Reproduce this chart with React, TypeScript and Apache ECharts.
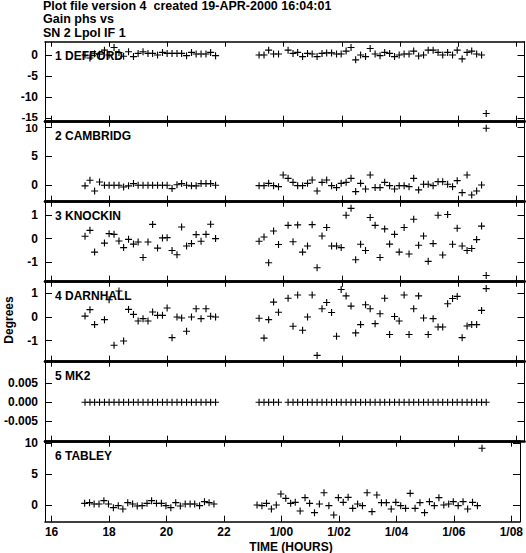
import React, { useEffect, useRef } from "react";
import * as echarts from "echarts";

// ---- data ----
const timesA = [17.15, 17.32, 17.48, 17.65, 17.82, 17.98, 18.15, 18.32, 18.48, 18.65, 18.82, 18.98, 19.15, 19.32, 19.48, 19.65, 19.82, 19.98, 20.15, 20.32, 20.48, 20.65, 20.82, 20.98, 21.15, 21.32, 21.48, 21.65];
const timesB = [23.15, 23.32, 23.48, 23.65, 23.82, 23.98, 24.15, 24.32, 24.48, 24.65, 24.82, 24.98, 25.15, 25.32, 25.48, 25.65, 25.82, 25.98, 26.15, 26.32, 26.48, 26.65, 26.82, 26.98, 27.15, 27.32, 27.48, 27.65, 27.82, 27.98, 28.15, 28.32, 28.48, 28.65, 28.82, 28.98, 29.15, 29.32, 29.48, 29.65, 29.82, 29.98, 30.15, 30.32, 30.48, 30.65, 30.82, 30.98];

const stationNames = ["1 DEFFORD", "2 CAMBRIDG", "3 KNOCKIN", "4 DARNHALL", "5 MK2", "6 TABLEY"];

const deffordA = [0.0, -0.7, 0.3, 0.2, 1.15, 0.0, 1.77, 0.6, -0.3, 0.77, -0.38, 0.38, 0.77, 0.38, 0.38, 0.0, 0.62, 0.38, 0.38, 0.38, 0.38, -0.15, 0.62, 0.23, 0.23, 0.23, 0.62, -0.15];
const deffordB = [0, 0, 1.15, 0.23, 0.23, null, 1.15, 0.38, 0.62, -0.38, 0.38, 0.23, -0.38, 0.38, 0.5, 0.5, 0.23, 0.23, 0.92, 1.77, -1.15, 0, -0.38, 1.54, 0.23, -0.15, 0.62, 0.38, -0.38, 0, 0.23, 0.23, 0.92, -0.23, 0, 1.15, 1.15, 0.62, 0, 0.62, 0, 1.15, -0.92, 0.62, 0.92, 0.23, 0, -13.85];

const cambridgA = [-0.1, 0.86, -0.98, 0.57, 0, 0, 0, 0, -0.29, -0.1, 0.29, 0, 0, 0, 0, 0, 0, 0, -0.57, 0.1, 0.29, 0, -0.1, -0.1, 0.29, 0.29, 0.29, 0];
const cambridgB = [-0.06, -0.06, 0.34, -0.06, -0.23, 1.78, 1.2, 0.51, -0.06, -0.06, 0.34, 0.91, -0.98, 0.51, 0.91, -0.06, -0.4, 0.34, 0.51, 1.2, -1.09, 0.34, -0.63, 1.78, -0.4, -0.4, 0.51, -0.06, -0.63, -0.06, -0.06, -0.23, 1.2, -0.8, 0.17, 0.17, -0.06, 0.63, 0.63, 0.17, -0.23, 0.8, -1.27, 1.78, -1.67, -0.98, 0.06, 9.83];

const knockinA = [0.1, 0.35, -0.57, null, -0.19, 0.21, 0.18, -0.1, -0.38, -0.03, -0.23, -0.14, -0.8, -0.14, 0.6, -0.4, 0.03, 0.04, -0.5, -0.68, 0.49, -0.31, -0.21, 0.17, -0.11, 0.18, 0.61, 0.0];
const knockinB = [-0.11, 0.07, -1.02, 0.32, -0.25, null, 0.56, -0.13, 0.58, -0.57, -0.31, 0.59, -1.23, 0.11, 0.47, -0.31, -0.31, -0.38, 0.99, 1.28, -0.89, -0.24, -0.5, 0.89, 0.56, -0.8, 0.41, -0.23, 0.18, -0.57, 0.47, -0.65, 0.82, -0.28, 0.11, -0.96, -0.21, 0.99, -0.69, 1.02, -0.24, 0.44, -0.31, -0.5, -0.42, -0.04, 0.53, -1.56];

const darnhallA = [0.04, 0.31, -0.32, null, -0.11, 0.73, -1.19, 1.1, -1.01, 0.32, 0.11, -0.17, -0.07, -0.17, 0.21, 0.07, 0.07, 0.38, -0.87, 0.0, -0.04, -0.6, 0.0, 0.35, -0.07, 0.35, 0.03, 0.0];
const darnhallB = [-0.05, -0.89, -0.11, 0.63, 0.2, null, 0.79, -0.39, 0.93, -0.56, 0.0, 0.93, -1.62, 0.35, 0.61, 0.19, -0.81, 1.16, 0.89, 0.46, -0.67, -0.32, 0.52, 0.35, -0.28, 0.14, 0.79, -0.74, 0.02, -0.17, 0.93, -0.74, 0.35, 0.89, -0.04, -0.74, -0.07, -0.42, -0.42, 0.56, 0.78, 0.87, -0.87, -0.38, -0.32, -0.32, 0.28, 1.2];

const mk2A = [0, 0, 0, 0, 0, 0, 0, 0, 0, 0, 0, 0, 0, 0, 0, 0, 0, 0, 0, 0, 0, 0, 0, 0, 0, 0, 0, 0];
const mk2B = [0, 0, 0, 0, 0, null, 0, 0, 0, 0, 0, 0, 0, 0, 0, 0, 0, 0, 0, 0, 0, 0, 0, 0, 0, 0, 0, 0, 0, 0, 0, 0, 0, 0, 0, 0, 0, 0, 0, 0, 0, 0, 0, 0, 0, 0, 0, 0];

const tableyA = [0.27, 0.38, 0.16, 0.16, 0.7, 0.16, -0.43, -0.11, -0.65, 0.38, 0.16, -0.16, -0.11, 0.27, 0.7, 0.27, 0.27, -0.11, -0.43, 0.38, -0.16, 0.16, 0.16, 0.16, -0.11, 0.54, 0.38, 0.16];
const tableyB = [0.0, -0.11, 0.27, -0.65, 0.0, 1.78, 1.08, 0.27, 0.43, -0.97, 1.19, 0.27, -1.24, 0.16, 1.99, -0.11, -1.62, 1.19, 0.43, 1.24, -0.54, 0.16, -0.11, 1.99, -1.08, 1.62, 0.38, 0.38, -0.65, 0.43, -0.11, -0.54, 1.89, -0.54, 0.38, -1.24, 0.54, -0.11, 1.19, 0.0, 0.16, 0.54, -0.11, 0.54, -0.65, 0.43, -0.11, 9.19];

const xTicks = [16, 18, 20, 22, 24, 26, 28, 30, 32];
const yTicks = [
  [0, -5, -10, -15],
  [0, 5, 10],
  [-1, 0, 1],
  [-1, 0, 1],
  [-0.005, 0, 0.005],
  [0, 5, 10],
];
const yRanges = [
  [-15.8, 3.15],
  [-2.83, 10.97],
  [-1.82, 1.56],
  [-1.885, 1.49],
  [-0.0104, 0.0107],
  [-2.71, 10.26],
];
const titleLines = ["Plot file version 4  created 19-APR-2000 16:04:01", "Gain phs vs", "SN 2 Lpol IF 1"];

// ---- layout ----
const FONT = '"Liberation Sans", Arial, Helvetica, sans-serif';
const X_MIN = 15.77;
const X_MAX = 32.3;
const GRID_LEFT = 45;
const GRID_WIDTH = 479.5;
const GRID_TOP = 41.7;
const GRID_H = 80;
const PLUS = "path://M4.2 0H5.8V4.2H10V5.8H5.8V10H4.2V5.8H0V4.2H4.2Z";

const stationValues = [
  [deffordA, deffordB],
  [cambridgA, cambridgB],
  [knockinA, knockinB],
  [darnhallA, darnhallB],
  [mk2A, mk2B],
  [tableyA, tableyB],
];

function pairs(a: (number | null)[], b: (number | null)[]) {
  const out: number[][] = [];
  a.forEach((v, i) => { if (v !== null) out.push([timesA[i], v]); });
  b.forEach((v, i) => { if (v !== null) out.push([timesB[i], v]); });
  return out;
}

function xLabel(v: number) {
  if (v < 24) return String(v);
  const h = v - 24;
  return "1/" + (h < 10 ? "0" + h : String(h));
}

export default function App() {
  const ref = useRef<HTMLDivElement>(null);
  useEffect(() => {
    if (!ref.current) return;
    const chart = echarts.init(ref.current, null, { renderer: "svg" });
    const grids: any[] = [];
    const xAxes: any[] = [];
    const yAxes: any[] = [];
    const series: any[] = [];
    const graphics: any[] = [];
    const n = stationNames.length;
    for (let i = 0; i < n; i++) {
      const top = GRID_TOP + i * GRID_H;
      grids.push({ left: GRID_LEFT, top, width: GRID_WIDTH, height: GRID_H });
      const isLast = i === n - 1;
      xAxes.push({
        gridIndex: i, type: "value", min: X_MIN, max: X_MAX, position: "bottom",
        axisLine: { onZero: false, lineStyle: { color: "#000", width: isLast ? 1.5 : 2.5 } },
        axisTick: { inside: true, length: 6, customValues: xTicks, lineStyle: { color: "#000", width: 1 } },
        axisLabel: isLast
          ? { show: true, customValues: xTicks, formatter: xLabel, color: "#000", fontFamily: FONT, fontWeight: "bold", fontSize: 12, lineHeight: 11, margin: 5 }
          : { show: false },
        splitLine: { show: false },
      });
      xAxes.push({
        gridIndex: i, type: "value", min: X_MIN, max: X_MAX, position: "top",
        axisLine: { onZero: false, lineStyle: { color: "#000", width: i === 0 ? 1.5 : 2.5 } },
        axisTick: { inside: true, length: 5, customValues: xTicks, lineStyle: { color: "#000", width: 1 } },
        axisLabel: { show: false },
        splitLine: { show: false },
      });
      const [ymin, ymax] = yRanges[i];
      const ticks = yTicks[i];
      const fmt = (v: number) => {
        const s = i === 4 ? v.toFixed(3) : String(v);
        if (i === 0 && v === -15) return "{lo|" + s + "}";
        if (i === 1 && v === 10) return "{hi|" + s + "}";
        return s;
      };
      yAxes.push({
        gridIndex: i, type: "value", min: ymin, max: ymax, position: "left",
        axisLine: { onZero: false, lineStyle: { color: "#000", width: 1 } },
        axisTick: { inside: true, length: 7, customValues: ticks, lineStyle: { color: "#000", width: 1 } },
        axisLabel: {
          show: true, customValues: ticks, formatter: fmt, color: "#000", fontFamily: FONT,
          fontWeight: "bold", fontSize: 12, lineHeight: 10, margin: 7,
          rich: {
            lo: { fontFamily: FONT, fontWeight: "bold", fontSize: 11.5, lineHeight: 9, padding: [0, 0, 2, 0], color: "#000" },
            hi: { fontFamily: FONT, fontWeight: "bold", fontSize: 11.5, lineHeight: 9, padding: [2, 0, 0, 0], color: "#000" },
          },
        },
        splitLine: { show: false },
      });
      yAxes.push({
        gridIndex: i, type: "value", min: ymin, max: ymax, position: "right",
        axisLine: { onZero: false, lineStyle: { color: "#000", width: 1 } },
        axisTick: { inside: true, length: 7, customValues: ticks, lineStyle: { color: "#000", width: 1 } },
        axisLabel: { show: false },
        splitLine: { show: false },
      });
      const [a, b] = stationValues[i];
      series.push({
        type: "scatter", xAxisIndex: 2 * i, yAxisIndex: 2 * i,
        data: pairs(a, b), symbol: PLUS, symbolSize: 7,
        itemStyle: { color: "#000", opacity: 1 }, silent: true, clip: false,
      });
      graphics.push({
        type: "text", x: 55, y: top + 14,
        style: { text: stationNames[i], font: `bold 12px ${FONT}`, fill: "#000", align: "left", verticalAlign: "middle" },
      });
    }
    const titleY = [6, 19.2, 32.5];
    titleLines.forEach((t, k) => {
      graphics.push({
        type: "text", x: 43, y: titleY[k],
        style: { text: t, font: `bold 12.5px ${FONT}`, fill: "#000", align: "left", verticalAlign: "middle" },
      });
    });
    graphics.push({
      type: "text", x: 9, y: 320, rotation: Math.PI / 2,
      style: { text: "Degrees", font: `bold 12px ${FONT}`, fill: "#000", align: "center", verticalAlign: "middle" },
    });
    graphics.push({
      type: "text", x: 291, y: 546.5,
      style: { text: "TIME (HOURS)", font: `bold 12px ${FONT}`, fill: "#000", align: "center", verticalAlign: "middle", lineHeight: 11 },
    });
    chart.setOption({
      animation: false,
      backgroundColor: "#fff",
      grid: grids,
      xAxis: xAxes,
      yAxis: yAxes,
      series,
      graphic: graphics,
    });
    return () => chart.dispose();
  }, []);
  return (
    <div
      ref={ref}
      style={{ position: "fixed", left: 0, top: 0, width: 526, height: 553, background: "#fff" }}
    />
  );
}
